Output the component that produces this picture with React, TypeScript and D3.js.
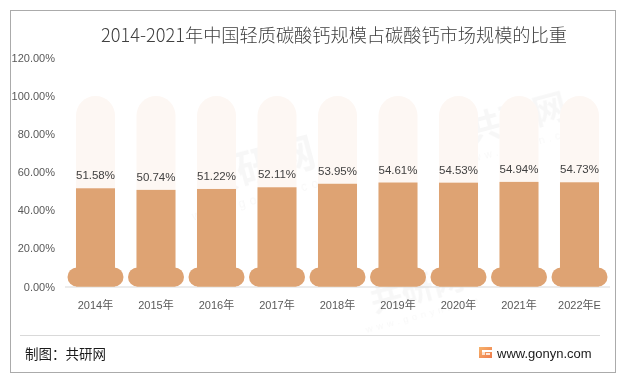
import React from 'react';
import * as d3 from 'd3';

const categories = ['2014年', '2015年', '2016年', '2017年', '2018年', '2019年', '2020年', '2021年', '2022年E'];
const values = [51.58, 50.74, 51.22, 52.11, 53.95, 54.61, 54.53, 54.94, 54.73];
const yTicks = [0, 20, 40, 60, 80, 100, 120];
const backgroundMax = 100;
const titleText = '2014-2021年中国轻质碳酸钙规模占碳酸钙市场规模的比重';
const sourceText = '制图：共研网';
const siteText = 'www.gonyn.com';

const W = 625;
const H = 377;
const numFont = '"Liberation Sans", Arial, "Noto Sans CJK SC", sans-serif';
const cjkFont = '"Noto Sans CJK SC", "Liberation Sans", sans-serif';

const watermarks = [
  { x: 260, y: 180, s: 40 },
  { x: 520, y: 130, s: 34 },
  { x: 420, y: 300, s: 32 },
];

export default function App() {
  const x = d3.scaleBand<string>().domain(categories).range([65.25, 609.75]).padding(0);
  const y = d3.scaleLinear().domain([0, 120]).range([286.5, 58]);
  const step = x.bandwidth();
  const bw = step * 0.645;
  const bulbW = 56;
  const bulbH = 19;
  const y0 = y(0);

  return (
    <svg width={W} height={H} viewBox={`0 0 ${W} ${H}`} style={{ position: 'absolute', left: 0, top: 0, background: '#fff' }}>
      <rect x={0} y={0} width={W} height={H} fill="#fff" />
      {/* watermarks */}
      <g opacity={0.035}>
        {watermarks.map((w, i) => (
          <g key={i} transform={`translate(${w.x},${w.y}) rotate(-15)`}>
            <text x={0} y={0} fontFamily={cjkFont} fontWeight="bold" fontSize={w.s} fill="#000" textAnchor="middle">共研网</text>
            <text x={0} y={w.s * 0.55} fontFamily={numFont} fontSize={w.s * 0.3} fill="#000" textAnchor="middle" letterSpacing={w.s * 0.12}>www.gonyn.com</text>
          </g>
        ))}
      </g>
      <rect x={10.5} y={10.5} width={605} height={362} fill="none" stroke="#ababab" strokeWidth={1} />
      <text x={334} y={34} fontFamily={cjkFont} fontWeight={300} fontSize={18.2} fill="#404040" textAnchor="middle" dominantBaseline="central">{titleText}</text>

      {/* y axis labels */}
      {yTicks.map((t) => (
        <text key={t} x={55} y={y(t)} fontFamily={numFont} fontSize={11} fill="#595959" textAnchor="end" dominantBaseline="central">
          {d3.format('.2f')(t) + '%'}
        </text>
      ))}

      {/* background columns */}
      {categories.map((c) => {
        const cx = (x(c) as number) + step / 2;
        return (
          <rect key={'bg' + c} x={cx - bw / 2} y={y(backgroundMax)} width={bw} height={y0 - y(backgroundMax)} rx={bw / 2} ry={bw / 2} fill="#fdf7f3" />
        );
      })}

      {/* baseline */}
      <line x1={65} x2={610} y1={y0 + 0.5} y2={y0 + 0.5} stroke="#d9d9d9" strokeWidth={1} />

      {/* bars */}
      {categories.map((c, i) => {
        const cx = (x(c) as number) + step / 2;
        const v = values[i];
        return (
          <g key={'bar' + c}>
            <rect x={cx - bw / 2} y={y(v)} width={bw} height={y0 - y(v)} fill="#dea373" />
            <rect x={cx - bulbW / 2} y={y0 - bulbH} width={bulbW} height={bulbH} rx={bulbH / 2} ry={bulbH / 2} fill="#dea373" />
            <text x={cx} y={y(v) - 13} fontFamily={numFont} fontSize={11.5} fill="#404040" textAnchor="middle" dominantBaseline="central">
              {d3.format('.2f')(v) + '%'}
            </text>
            <text x={cx} y={305} fontFamily={numFont} fontSize={11} fill="#595959" textAnchor="middle" dominantBaseline="central">{c}</text>
          </g>
        );
      })}

      {/* footer */}
      <line x1={20} x2={600} y1={335.5} y2={335.5} stroke="#d9d9d9" strokeWidth={1} />
      <text x={25} y={353} fontFamily={cjkFont} fontSize={13.5} fill="#1a1a1a" dominantBaseline="central">{sourceText}</text>
      <defs>
        <linearGradient id="logoGrad" x1="0" y1="0" x2="1" y2="1">
          <stop offset="0%" stopColor="#f7b36b" />
          <stop offset="100%" stopColor="#ee7b4c" />
        </linearGradient>
      </defs>
      <g transform="translate(479,347)">
        <rect x={0} y={0} width={13} height={11} fill="url(#logoGrad)" />
        <rect x={3} y={3} width={10} height={2} fill="#fff" />
        <rect x={3} y={5} width={3} height={3} fill="#fff" opacity={0.7} />
        <rect x={7} y={6} width={4} height={2} fill="#fff" opacity={0.8} />
      </g>
      <text x={497} y={353} fontFamily={numFont} fontSize={13} fill="#1a1a1a" dominantBaseline="central">{siteText}</text>
    </svg>
  );
}
